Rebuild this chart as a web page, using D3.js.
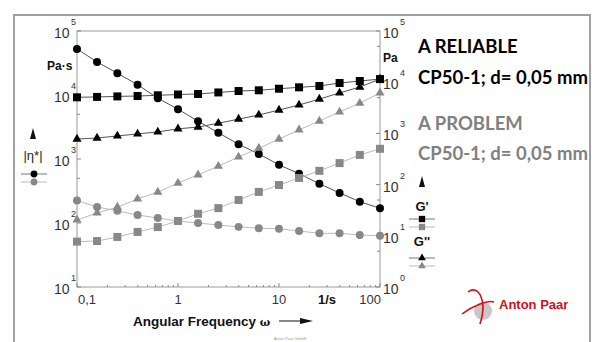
<!DOCTYPE html>
<html>
<head>
<meta charset="utf-8">
<script src="https://cdn.jsdelivr.net/npm/d3@7"></script>
<style>
  body { margin: 0; background: #fff; }
  svg { display: block; }
</style>
</head>
<body>
<svg id="chart"></svg>
<script>
const WIDTH = 592;
const HEIGHT = 342;

// angular frequency, 1/s
const freq = [0.1, 0.158, 0.251, 0.398, 0.631, 1, 1.58, 2.51, 3.98, 6.31, 10, 15.8, 25.1, 39.8, 63.1, 100];

// reliable measurement (black)
const etaReliable = [52500, 32800, 21900, 14500, 8900, 6000, 3900, 2570, 1700, 1200, 810, 590, 410, 295, 215, 170];
const gpReliable  = [5070, 5160, 5280, 5370, 5550, 5750, 5890, 6310, 6730, 6950, 7460, 7940, 8430, 9640, 10550, 11500];
const gppReliable = [776, 813, 891, 977, 1070, 1230, 1330, 1580, 1900, 2290, 2860, 3590, 4680, 6170, 8050, 11500];

// problem measurement (grey)
const etaProblem = [224, 178, 155, 133, 120, 107, 100, 93, 87, 83, 81, 75, 69, 69, 65, 63];
const gpProblem  = [7.7, 7.9, 9.5, 11.9, 14.8, 19.5, 26.9, 34.7, 50, 72, 98, 135, 186, 263, 380, 500];
const gppProblem = [20.4, 27.9, 36.3, 52.5, 71.6, 107, 155, 229, 347, 513, 776, 1175, 1740, 2630, 3890, 6170];

const xTicks = [0.1, 1, 10, 100];
const xTickLabels = ["0,1", "1", "10", "100"];
const leftExp = [1, 2, 3, 4, 5];
const rightExp = [0, 1, 2, 3, 4, 5];

const svg = d3.select("#chart").attr("width", WIDTH).attr("height", HEIGHT)
  .style("font-family", "'Liberation Sans', Arial, sans-serif");

const L = 77, R = 380, T = 31, B = 287;

const x = d3.scaleLog().domain([0.1, 100]).range([L, R]);
const yL = d3.scaleLog().domain([10, 1e5]).range([B, T]);
const yR = d3.scaleLog().domain([1, 1e5]).range([B, T]);

// outer frame
svg.append("rect").attr("x", 14).attr("y", 15).attr("width", 576).attr("height", 340)
  .attr("fill", "none").attr("stroke", "#a0a0a0").attr("stroke-width", 2);

// plot box
svg.append("rect").attr("x", L).attr("y", T).attr("width", R - L).attr("height", B - T)
  .attr("fill", "none").attr("stroke", "#9a9a9a").attr("stroke-width", 1);

// x minor ticks
const xMinor = [];
[0.1, 1, 10].forEach(d => { for (let k = 1; k < 10; k++) xMinor.push(d * k); });
xMinor.push(100);
svg.append("g").selectAll("line").data(xMinor).enter().append("line")
  .attr("x1", d => x(d)).attr("x2", d => x(d))
  .attr("y1", B).attr("y2", d => xTicks.includes(d) ? B - 4 : B - 2)
  .attr("stroke", "#888");

// y ticks (decades + 5x)
function yTicks(scale, exps, side) {
  const vals = [];
  exps.forEach((e, i) => { vals.push(Math.pow(10, e)); if (i < exps.length - 1) vals.push(5 * Math.pow(10, e)); });
  const xp = side === "left" ? L : R;
  const dir = side === "left" ? 1 : -1;
  svg.append("g").selectAll("line").data(vals).enter().append("line")
    .attr("x1", xp).attr("x2", d => xp + dir * (String(d)[0] === "1" ? 4 : 3))
    .attr("y1", d => scale(d)).attr("y2", d => scale(d))
    .attr("stroke", "#888");
}
yTicks(yL, leftExp, "left");
yTicks(yR, rightExp, "right");

// x tick labels
svg.append("g").selectAll("text").data(xTicks).enter().append("text")
  .attr("x", (d, i) => i === 0 ? x(d) + 10 : (i === 3 ? x(d) + 1 : x(d)))
  .attr("y", 304)
  .attr("text-anchor", (d, i) => i === 3 ? "end" : "middle")
  .attr("font-size", 13).attr("fill", "#333")
  .text((d, i) => xTickLabels[i]);

// power-of-ten labels
function powLabels(scale, exps, side) {
  const g = svg.append("g");
  exps.forEach(e => {
    const yy = scale(Math.pow(10, e));
    const x0 = side === "left" ? 54 : 383;
    g.append("text").attr("x", x0).attr("y", yy + 7)
      .attr("font-size", 14).attr("fill", "#333").text("10");
    g.append("text").attr("x", x0 + 17).attr("y", yy - 6)
      .attr("font-size", 9).attr("fill", "#333").text(e);
  });
}
powLabels(yL, leftExp, "left");
powLabels(yR, rightExp, "right");

// units
svg.append("text").attr("x", 47).attr("y", 70).attr("font-size", 12).attr("font-weight", "bold")
  .attr("fill", "#111").text("Pa·s");
svg.append("text").attr("x", 383).attr("y", 62).attr("font-size", 12).attr("font-weight", "bold")
  .attr("fill", "#111").text("Pa");
svg.append("text").attr("x", 318).attr("y", 304).attr("font-size", 13).attr("font-weight", "bold")
  .attr("fill", "#111").text("1/s");

// x axis title
svg.append("text").attr("x", 133).attr("y", 326).attr("font-size", 13.5).attr("font-weight", "bold")
  .attr("fill", "#111").text("Angular Frequency ")
  .append("tspan").attr("font-family", "'DejaVu Serif', serif").attr("font-size", 11).text("ω");
svg.append("line").attr("x1", 279).attr("x2", 302).attr("y1", 321).attr("y2", 321)
  .attr("stroke", "#111").attr("stroke-width", 1);
svg.append("path").attr("d", "M300,318 L313,321 L300,324 Z").attr("fill", "#111");

// series
const series = [
  { vals: etaReliable, y: yL, sym: d3.symbolCircle, size: 50, fill: "#000", line: "#555" },
  { vals: gpReliable,  y: yR, sym: d3.symbolSquare, size: 64, fill: "#000", line: "#555" },
  { vals: gppReliable, y: yR, sym: d3.symbolTriangle, size: 36, fill: "#000", line: "#555" },
  { vals: etaProblem,  y: yL, sym: d3.symbolCircle, size: 50, fill: "#888", line: "#bbb" },
  { vals: gpProblem,   y: yR, sym: d3.symbolSquare, size: 64, fill: "#888", line: "#bbb" },
  { vals: gppProblem,  y: yR, sym: d3.symbolTriangle, size: 36, fill: "#888", line: "#bbb" }
];

series.forEach(s => {
  const pts = freq.map((f, i) => [x(f), s.y(s.vals[i])]);
  svg.append("path").attr("d", d3.line()(pts)).attr("fill", "none")
    .attr("stroke", s.line).attr("stroke-width", 1);
  svg.append("g").selectAll("path").data(pts).enter().append("path")
    .attr("transform", d => `translate(${d[0]},${d[1]})`)
    .attr("d", d3.symbol().type(s.sym).size(s.size)).attr("fill", s.fill);
});

// legend helpers
function upArrow(cx, y0) {
  svg.append("path").attr("d", `M${cx},${y0} L${cx + 3},${y0 + 11} L${cx - 3},${y0 + 11} Z`).attr("fill", "#111");
}
function legendItem(cx, yy, sym, size, fill, line) {
  svg.append("line").attr("x1", cx - 13).attr("x2", cx + 13).attr("y1", yy).attr("y2", yy)
    .attr("stroke", line).attr("stroke-width", 1);
  svg.append("path").attr("transform", `translate(${cx},${yy})`)
    .attr("d", d3.symbol().type(sym).size(size)).attr("fill", fill);
}

// left legend
upArrow(33, 128);
svg.append("text").attr("x", 33).attr("y", 160).attr("text-anchor", "middle").attr("font-size", 13)
  .attr("fill", "#222").text("|η*|");
legendItem(34, 174, d3.symbolCircle, 36, "#000", "#777");
legendItem(34, 182, d3.symbolCircle, 36, "#888", "#bbb");

// right legend
upArrow(422, 176);
svg.append("text").attr("x", 422).attr("y", 211).attr("text-anchor", "middle").attr("font-size", 13)
  .attr("font-weight", "bold").attr("fill", "#111").text("G'");
legendItem(422, 219, d3.symbolSquare, 40, "#000", "#777");
legendItem(422, 227, d3.symbolSquare, 40, "#888", "#bbb");
svg.append("text").attr("x", 422).attr("y", 246).attr("text-anchor", "middle").attr("font-size", 13)
  .attr("font-weight", "bold").attr("fill", "#111").text("G''");
legendItem(422, 258, d3.symbolTriangle, 26, "#000", "#777");
legendItem(422, 266, d3.symbolTriangle, 26, "#888", "#bbb");

// annotation text
const note = svg.append("g").style("font-family", "Lato, 'Open Sans', sans-serif").attr("font-weight", "bold");
note.append("text").attr("x", 418).attr("y", 53).attr("font-size", 18.5).attr("fill", "#000").text("A RELIABLE");
note.append("text").attr("x", 418).attr("y", 84).attr("font-size", 18.5).attr("fill", "#000").text("CP50-1; d= 0,05 mm");
note.append("text").attr("x", 418).attr("y", 130).attr("font-size", 18.5).attr("fill", "#808080").text("A PROBLEM");
note.append("text").attr("x", 418).attr("y", 160).attr("font-size", 18.5).attr("fill", "#808080").text("CP50-1; d= 0,05 mm");

// logo
const logo = svg.append("g");
logo.append("ellipse").attr("cx", 483).attr("cy", 311).attr("rx", 9).attr("ry", 9).attr("fill", "#c8c8c8");
logo.append("path").attr("d", "M468,292 C478,284 488,300 480,324").attr("fill", "none")
  .attr("stroke", "#d0101a").attr("stroke-width", 1.6);
logo.append("path").attr("d", "M462,314 C472,306 488,300 494,302").attr("fill", "none")
  .attr("stroke", "#d0101a").attr("stroke-width", 1.6);
logo.append("text").attr("x", 499).attr("y", 309).attr("font-size", 13).attr("font-weight", "bold")
  .attr("fill", "#d0101a").text("Anton Paar");

svg.append("text").attr("x", 290).attr("y", 340).attr("text-anchor", "middle").attr("font-size", 4)
  .attr("fill", "#999").text("Anton Paar GmbH");
</script>
</body>
</html>
